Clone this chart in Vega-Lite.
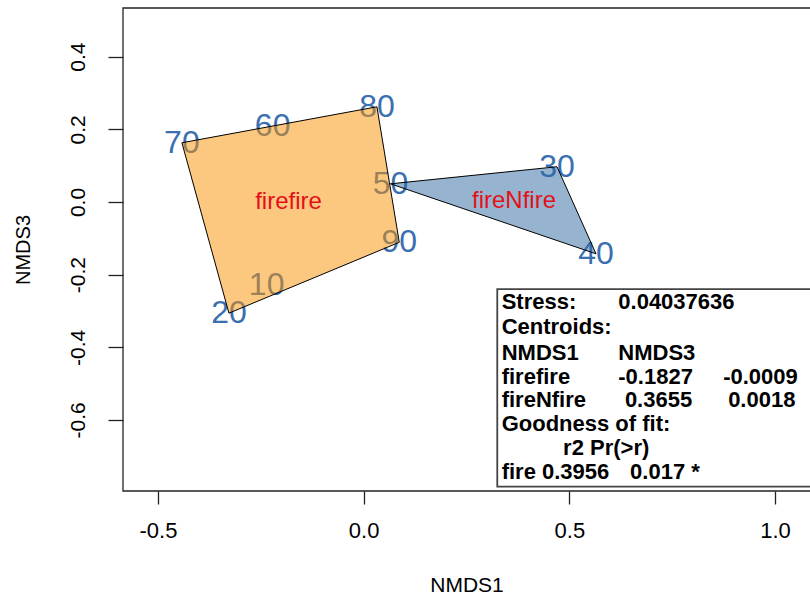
{
  "$schema": "https://vega.github.io/schema/vega-lite/v6.json",
  "width": 687,
  "height": 483,
  "autosize": {"type": "none"},
  "padding": {"left": 123, "top": 8, "right": 0, "bottom": 106},
  "background": "white",
  "config": {
    "font": "Liberation Sans",
    "view": {"stroke": null},
    "axis": {"grid": false, "domain": false, "tickColor": "#222", "tickWidth": 1.3, "labelColor": "black", "titleColor": "black", "labelFont": "Liberation Sans", "titleFont": "Liberation Sans", "titleFontWeight": "normal"}
  },
  "datasets": {
    "frame": [
      {"x": -0.585, "x2": 1.2, "y": 0.534, "y2": -0.7956}
    ],
    "sites": [
      {"site": "10", "x": -0.2358, "y": -0.228},
      {"site": "20", "x": -0.3275, "y": -0.306},
      {"site": "30", "x": 0.470, "y": 0.097},
      {"site": "40", "x": 0.5648, "y": -0.1427},
      {"site": "50", "x": 0.0652, "y": 0.050},
      {"site": "60", "x": -0.2212, "y": 0.210},
      {"site": "70", "x": -0.4418, "y": 0.163},
      {"site": "80", "x": 0.0323, "y": 0.262},
      {"site": "90", "x": 0.0866, "y": -0.111}
    ],
    "hullFire": [
      {"site": "70", "ord": 1, "x": -0.4418, "y": 0.163},
      {"site": "80", "ord": 2, "x": 0.0323, "y": 0.262},
      {"site": "90", "ord": 3, "x": 0.0866, "y": -0.111},
      {"site": "20", "ord": 4, "x": -0.3275, "y": -0.306},
      {"site": "70", "ord": 5, "x": -0.4418, "y": 0.163}
    ],
    "hullNfire": [
      {"site": "50", "ord": 1, "x": 0.0652, "y": 0.050},
      {"site": "30", "ord": 2, "x": 0.470, "y": 0.097},
      {"site": "40", "ord": 3, "x": 0.5648, "y": -0.1427},
      {"site": "50", "ord": 4, "x": 0.0652, "y": 0.050}
    ],
    "centroids": [
      {"group": "firefire", "x": -0.1827, "y": -0.0009},
      {"group": "fireNfire", "x": 0.3655, "y": 0.0018}
    ],
    "legendBox": [
      {"x": 0.3248, "x2": 1.12, "y": -0.240, "y2": -0.7837}
    ],
    "legendText": [
      {"text": "Stress:", "x": 0.3355, "y": -0.2741},
      {"text": "0.04037636", "x": 0.619, "y": -0.2741},
      {"text": "Centroids:", "x": 0.3355, "y": -0.343},
      {"text": "NMDS1", "x": 0.3355, "y": -0.4146},
      {"text": "NMDS3", "x": 0.619, "y": -0.4146},
      {"text": "firefire", "x": 0.3355, "y": -0.4807},
      {"text": "-0.1827", "x": 0.619, "y": -0.4807},
      {"text": "-0.0009", "x": 0.874, "y": -0.4807},
      {"text": "fireNfire", "x": 0.3355, "y": -0.5449},
      {"text": "0.3655", "x": 0.635, "y": -0.5449},
      {"text": "0.0018", "x": 0.886, "y": -0.5449},
      {"text": "Goodness of fit:", "x": 0.3355, "y": -0.6118},
      {"text": "r2 Pr(>r)", "x": 0.4848, "y": -0.678},
      {"text": "fire 0.3956", "x": 0.3355, "y": -0.7424},
      {"text": "0.017 *", "x": 0.6476, "y": -0.7424}
    ]
  },
  "encoding": {
    "x": {
      "field": "x", "type": "quantitative",
      "scale": {"domain": [-0.585, 1.085], "nice": false, "zero": false},
      "axis": {"title": "NMDS1", "values": [-0.5, 0, 0.5, 1], "format": ".1f", "labelExpr": "replace(datum.label, '\u2212', '-')", "tickSize": 13, "labelFontSize": 22, "labelPadding": 16, "titleFontSize": 21, "titlePadding": 33}
    },
    "y": {
      "field": "y", "type": "quantitative",
      "scale": {"domain": [-0.7956, 0.534], "nice": false, "zero": false},
      "axis": {"title": "NMDS3", "values": [-0.6, -0.4, -0.2, 0, 0.2, 0.4], "format": ".1f", "labelExpr": "replace(datum.label, '\u2212', '-')", "labelAngle": -90, "tickSize": 15, "labelFontSize": 21, "labelPadding": 20, "titleFontSize": 20, "titlePadding": 34}
    }
  },
  "layer": [
    {
      "data": {"name": "frame"},
      "mark": {"type": "rect", "fill": null, "stroke": "#222", "strokeWidth": 1.3},
      "encoding": {"x2": {"field": "x2"}, "y2": {"field": "y2"}}
    },
    {
      "data": {"name": "sites"},
      "mark": {"type": "text", "fontSize": 32, "color": "#3A70B0", "align": "center", "baseline": "middle"},
      "encoding": {"text": {"field": "site", "type": "nominal"}}
    },
    {
      "data": {"name": "hullFire"},
      "mark": {"type": "line", "fill": "#F99101", "fillOpacity": 0.5, "stroke": "black", "strokeWidth": 1},
      "encoding": {"order": {"field": "ord", "type": "quantitative"}}
    },
    {
      "data": {"name": "hullNfire"},
      "mark": {"type": "line", "fill": "#2D69A1", "fillOpacity": 0.5, "stroke": "black", "strokeWidth": 1},
      "encoding": {"order": {"field": "ord", "type": "quantitative"}}
    },
    {
      "data": {"name": "centroids"},
      "mark": {"type": "text", "fontSize": 24, "color": "#E3101A", "align": "center", "baseline": "middle"},
      "encoding": {"text": {"field": "group", "type": "nominal"}}
    },
    {
      "data": {"name": "legendBox"},
      "mark": {"type": "rect", "fill": "white", "stroke": "#444", "strokeWidth": 1.8},
      "encoding": {"x2": {"field": "x2"}, "y2": {"field": "y2"}}
    },
    {
      "data": {"name": "legendText"},
      "mark": {"type": "text", "fontSize": 22, "fontWeight": "bold", "color": "black", "align": "left", "baseline": "middle"},
      "encoding": {"text": {"field": "text", "type": "nominal"}}
    }
  ]
}
